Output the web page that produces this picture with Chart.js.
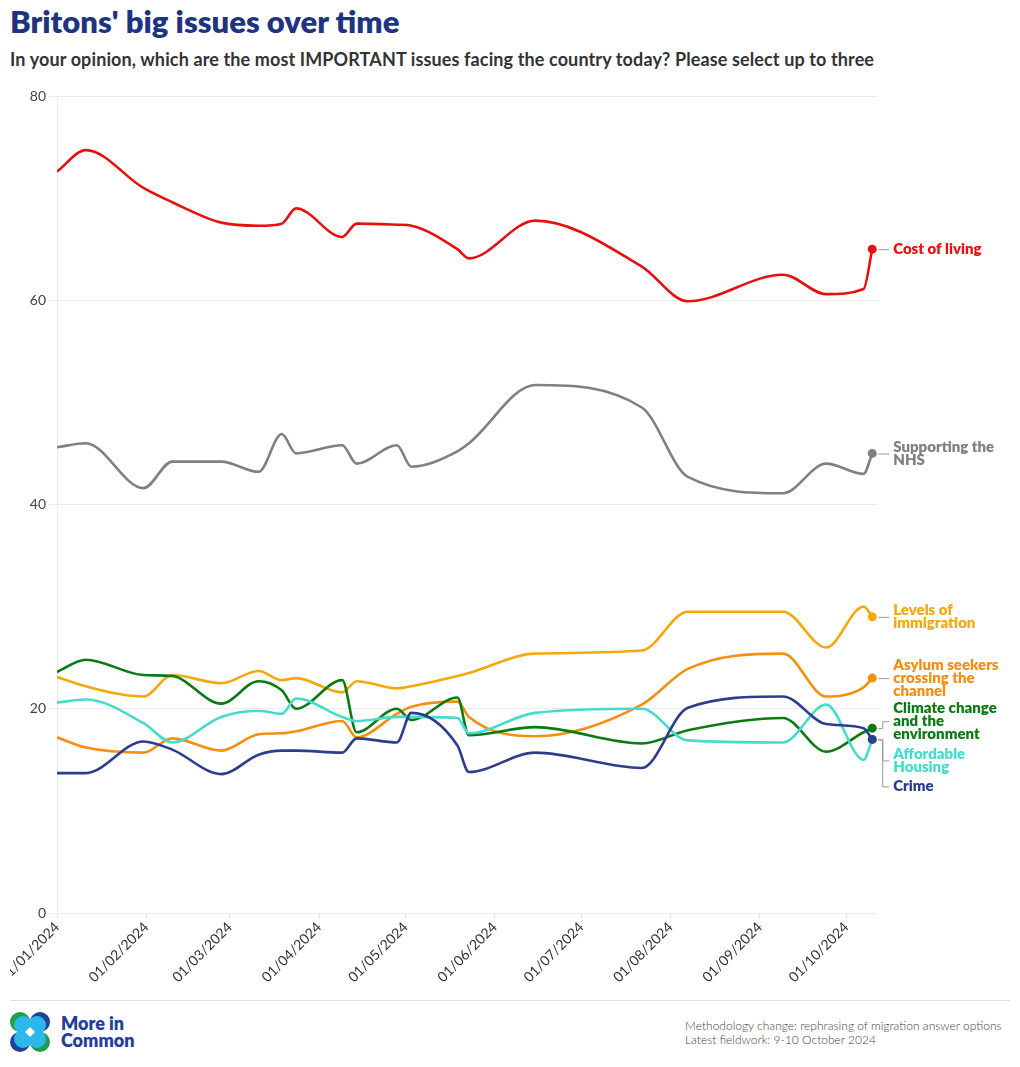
<!DOCTYPE html>
<html>
<head>
<meta charset="utf-8">
<script src="https://cdn.jsdelivr.net/npm/chart.js@4.4.1/dist/chart.umd.min.js"></script>
<style>
  body { margin: 0; background: #fff; font-family: Lato, "Noto Sans", sans-serif; }
  #wrap { position: relative; width: 1020px; height: 1067px; overflow: hidden; }
  h1 { position: absolute; left: 10px; top: 2px; margin: 0; font-size: 31px; font-weight: 800; color: #1f3480; }
  h2 { position: absolute; left: 10px; top: 48px; margin: 0; font-size: 18px; font-weight: 700; color: #333; letter-spacing: 0.12px; }
  #chart_box { position: absolute; left: 10px; top: 70px; width: 1000px; height: 925px; }
  #rule { position: absolute; left: 10px; top: 1000px; width: 1000px; height: 1px; background: #ddd; }
  #logo { position: absolute; left: 10px; top: 1012px; }
  #brand { position: absolute; left: 61px; top: 1015px; font-size: 18px; line-height: 17px; font-weight: 800; color: #22409a; }
  #note { position: absolute; left: 685px; top: 1019px; font-size: 12px; line-height: 14px; color: #444; font-weight: 300; }
</style>
</head>
<body>
<div id="wrap">
  <h1>Britons' big issues over time</h1>
  <h2>In your opinion, which are the most IMPORTANT issues facing the country today? Please select up to three</h2>
  <div id="chart_box"><canvas id="chart-line"></canvas></div>
  <div id="rule"></div>
  <svg id="logo" width="40" height="40" viewBox="0 0 40 40">
    <circle cx="10" cy="10" r="10" fill="#1e9e4a"/>
    <circle cx="30" cy="10" r="10" fill="#22409a"/>
    <circle cx="10" cy="30" r="10" fill="#22409a"/>
    <circle cx="30" cy="30" r="10" fill="#1e9e4a"/>
    <circle cx="13" cy="13" r="9" fill="#2bb8ea"/>
    <circle cx="27" cy="13" r="9" fill="#2bb8ea"/>
    <circle cx="13" cy="27" r="9" fill="#2bb8ea"/>
    <circle cx="27" cy="27" r="9" fill="#2bb8ea"/>
    <path d="M20 15 L25 20 L20 25 L15 20 Z" fill="#fff"/>
  </svg>
  <div id="brand">More in<br>Common</div>
  <div id="note">Methodology change: rephrasing of migration answer options<br>Latest fieldwork: 9-10 October 2024</div>
</div>
<script>
// poll dates (fieldwork)
var dates = ['2024-01-01','2024-01-11','2024-01-31','2024-02-10','2024-02-27','2024-03-11','2024-03-19',
             '2024-03-24','2024-04-09','2024-04-14','2024-04-28','2024-05-03','2024-05-19','2024-05-23',
             '2024-06-15','2024-07-22','2024-08-07','2024-09-09','2024-09-24','2024-10-07','2024-10-10'];

var costOfLiving = [72.6, 74.7, 71.0, 69.6, 67.6, 67.3, 67.5, 69.0, 66.2, 67.5, 67.4, 67.3, 65.0, 64.1, 67.8, 63.3, 59.9, 62.5, 60.6, 61.1, 65.0];
var nhs          = [45.6, 46.0, 41.6, 44.2, 44.2, 43.2, 46.9, 45.0, 45.8, 44.0, 45.8, 43.7, 45.2, 46.0, 51.7, 49.5, 42.7, 41.1, 44.0, 43.0, 45.0];
var immigration  = [23.1, 22.2, 21.2, 23.3, 22.5, 23.7, 22.8, 23.0, 21.6, 22.7, 22.0, 22.2, 23.2, 23.5, 25.4, 25.7, 29.5, 29.5, 26.0, 30.0, 29.0];
var asylum       = [17.2, 16.2, 15.7, 17.1, 15.9, 17.5, 17.6, 17.8, 18.8, 17.2, 19.5, 20.2, 20.7, 19.2, 17.3, 20.4, 23.9, 25.4, 21.2, 22.1, 23.0];
var climate      = [23.6, 24.8, 23.3, 23.2, 20.5, 22.7, 21.8, 20.0, 22.8, 17.7, 20.0, 18.9, 21.1, 17.4, 18.2, 16.6, 17.9, 19.1, 15.8, 17.7, 18.1];
var housing      = [20.6, 20.9, 18.6, 16.7, 19.2, 19.8, 19.5, 21.0, 19.2, 18.8, 19.2, 19.2, 19.1, 17.6, 19.6, 20.0, 16.9, 16.7, 20.4, 15.0, 17.0];
var crime        = [13.7, 13.7, 16.8, 16.0, 13.6, 15.5, 15.9, 15.9, 15.7, 17.1, 16.7, 19.6, 16.4, 13.8, 15.7, 14.2, 20.1, 21.2, 18.5, 18.1, 17.0];

var seriesNames = [['Cost of living'], ['Supporting the', 'NHS'], ['Levels of', 'immigration'],
                   ['Asylum seekers', 'crossing the', 'channel'], ['Climate change', 'and the', 'environment'],
                   ['Affordable', 'Housing'], ['Crime']];
var yTicks = [0, 20, 40, 60, 80];
var monthStarts = ['2024-01-01','2024-02-01','2024-03-01','2024-04-01','2024-05-01','2024-06-01',
                   '2024-07-01','2024-08-01','2024-09-01','2024-10-01'];

var colors = ['#e8100f', '#808080', '#f4a80c', '#f48f12', '#0a7a12', '#46dccc', '#2c3d8c'];
// label nudges in px (to keep end labels apart)
var labelShift = [0, 0, 0, 0, -7, 21, 47];

var t0 = Date.UTC(2024, 0, 1);
function toDay(s){
  var p = s.split('-');
  return Math.round((Date.UTC(+p[0], +p[1] - 1, +p[2]) - t0) / 86400000);
}
function dayLabel(d){
  var dt = new Date(t0 + d * 86400000);
  var dd = ('0' + dt.getUTCDate()).slice(-2), mm = ('0' + (dt.getUTCMonth() + 1)).slice(-2);
  return dd + '/' + mm + '/' + dt.getUTCFullYear();
}

var allSeries = [costOfLiving, nhs, immigration, asylum, climate, housing, crime];
var days = dates.map(toDay);
var lastIdx = dates.length - 1;

var datasets = allSeries.map(function(vals, i){
  return {
    label: seriesNames[i].join(' '),
    data: vals.map(function(v, j){ return {x: days[j], y: v}; }),
    borderColor: colors[i],
    backgroundColor: colors[i],
    borderWidth: 2.6,
    cubicInterpolationMode: 'monotone',
    pointRadius: function(c){ return c.dataIndex === lastIdx ? 4.5 : 0; },
    pointBorderWidth: 0,
    pointHoverRadius: 0,
    fill: false
  };
}).reverse();

var endLabels = {
  id: 'endLabels',
  afterDatasetsDraw: function(chart){
    var ctx = chart.ctx, xs = chart.scales.x, ys = chart.scales.y;
    var px = xs.getPixelForValue(days[lastIdx]);
    var lh = 12.6;
    ctx.save();
    ctx.font = '800 15px Lato';
    ctx.textBaseline = 'middle';
    allSeries.forEach(function(vals, i){
      var py = ys.getPixelForValue(vals[lastIdx]);
      var cy = py + labelShift[i];
      // connector
      ctx.strokeStyle = '#9a9a9a';
      ctx.lineWidth = 1;
      ctx.beginPath();
      if (labelShift[i] === 0) {
        ctx.moveTo(px + 6, py + 0.5); ctx.lineTo(px + 17, py + 0.5);
      } else {
        ctx.moveTo(px + 6, py + 0.5); ctx.lineTo(px + 10.5, py + 0.5);
        ctx.lineTo(px + 10.5, cy + 0.5); ctx.lineTo(px + 17, cy + 0.5);
      }
      ctx.stroke();
      ctx.fillStyle = colors[i];
      var lines = seriesNames[i];
      var top = cy - (lines.length - 1) * lh / 2;
      lines.forEach(function(t, k){ ctx.fillText(t, px + 21, top + k * lh); });
    });
    ctx.restore();
  }
};

var ctx2 = document.getElementById('chart-line').getContext('2d');
new Chart(ctx2, {
  type: 'line',
  data: { datasets: datasets },
  plugins: [endLabels],
  options: {
    responsive: true,
    maintainAspectRatio: false,
    animation: false,
    layout: { padding: { top: 26, right: 132, left: 0, bottom: 0 } },
    plugins: { legend: { display: false }, tooltip: { enabled: false } },
    scales: {
      x: {
        type: 'linear',
        min: 0,
        max: 285,
        afterBuildTicks: function(s){ s.ticks = monthStarts.map(function(m){ return {value: toDay(m)}; }); },
        afterFit: function(s){ s.height = 82; s.paddingLeft = 0; s.paddingRight = 0; },
        grid: { drawOnChartArea: false, drawTicks: true, tickLength: 6, color: '#e6e6e6' },
        border: { display: false },
        ticks: {
          autoSkip: false, minRotation: 45, maxRotation: 45, padding: 0,
          color: '#333', font: { family: 'Lato', size: 14 },
          callback: function(v){ return dayLabel(v); }
        }
      },
      y: {
        min: 0, max: 80,
        afterBuildTicks: function(s){ s.ticks = yTicks.map(function(v){ return {value: v}; }); },
        afterFit: function(s){ s.width = 47; },
        grid: { color: '#ececec', tickLength: 8, drawTicks: true },
        border: { display: true, color: '#ececec' },
        ticks: { padding: 3, color: '#444', font: { family: 'Lato', size: 14 } }
      }
    }
  }
});
</script>
</body>
</html>
